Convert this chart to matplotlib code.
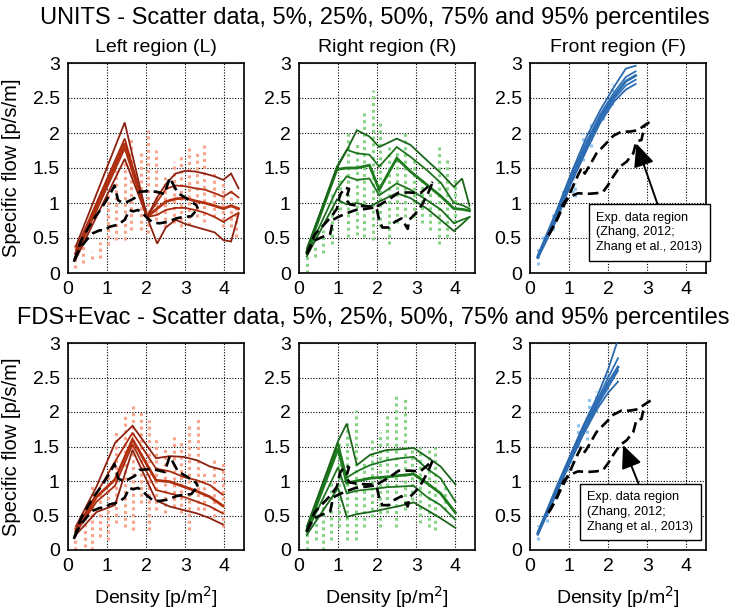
import matplotlib
matplotlib.use("Agg")
import matplotlib.pyplot as plt
from matplotlib.ticker import FormatStrFormatter, MultipleLocator

plt.rcParams['font.family'] = ['Liberation Sans', 'DejaVu Sans']

# ---------------------------------------------------------------- data
# Percentile curves (5, 25, 50, 75, 95 %) of specific flow vs density

# UNITS, left region
units_L_x = [0.2, 1.45, 2.02, 2.28, 2.5, 2.75, 3.0, 3.25, 3.5, 3.75, 3.97, 4.17, 4.36]
units_L_p05 = [0.2, 1.63, 0.8, 0.42, 0.65, 0.76, 0.7, 0.66, 0.62, 0.58, 0.47, 0.45, 0.84]
units_L_p25 = [0.24, 1.78, 0.8, 0.83, 0.9, 0.93, 0.93, 0.9, 0.86, 0.8, 0.73, 0.8, 0.86]
units_L_p50 = [0.28, 1.85, 0.8, 0.92, 1.02, 1.06, 1.07, 1.03, 1.0, 0.96, 0.92, 0.96, 0.92]
units_L_p75 = [0.33, 1.92, 0.8, 1.02, 1.2, 1.25, 1.24, 1.21, 1.19, 1.14, 1.09, 1.16, 1.08]
units_L_p95 = [0.38, 2.15, 0.8, 1.08, 1.27, 1.42, 1.46, 1.45, 1.42, 1.38, 1.33, 1.42, 1.21]

# UNITS, right region
units_R_x = [0.2, 0.97, 1.22, 1.48, 1.8, 2.05, 2.5, 2.85, 3.27, 3.64, 3.96, 4.17, 4.36]
units_R_p05 = [0.24, 1.05, 0.98, 1.0, 0.95, 1.02, 1.14, 1.07, 0.92, 0.75, 0.6, 0.7, 0.8]
units_R_p25 = [0.27, 1.2, 1.38, 1.33, 1.35, 1.11, 1.28, 1.19, 1.04, 0.9, 0.71, 0.76, 0.8]
units_R_p50 = [0.3, 1.48, 1.5, 1.5, 1.54, 1.19, 1.64, 1.45, 1.26, 1.09, 0.92, 0.91, 0.89]
units_R_p75 = [0.32, 1.52, 1.76, 1.71, 1.69, 1.52, 1.8, 1.66, 1.47, 1.28, 1.0, 0.97, 0.92]
units_R_p95 = [0.35, 1.5, 1.75, 2.04, 1.95, 1.8, 1.92, 1.83, 1.61, 1.42, 1.23, 1.35, 0.96]

# UNITS, front region
units_F_x = [0.2, 0.7, 1.05, 1.45, 1.8, 2.15, 2.45, 2.7]
units_F_p05 = [0.21, 0.78, 1.28, 1.76, 2.15, 2.45, 2.62, 2.7]
units_F_p25 = [0.22, 0.82, 1.32, 1.8, 2.19, 2.49, 2.68, 2.76]
units_F_p50 = [0.23, 0.85, 1.35, 1.84, 2.23, 2.53, 2.74, 2.82]
units_F_p75 = [0.24, 0.88, 1.38, 1.88, 2.27, 2.58, 2.8, 2.88]
units_F_p95 = [0.25, 0.92, 1.42, 1.95, 2.33, 2.66, 2.92, 2.96]

# FDS+Evac, left region
fds_L_x = [0.2, 0.73, 1.2, 1.65, 2.25, 2.6, 2.95, 3.3, 3.63, 3.96]
fds_L_p05 = [0.22, 0.55, 0.65, 1.45, 0.72, 0.63, 0.58, 0.53, 0.46, 0.37]
fds_L_p25 = [0.25, 0.7, 0.93, 1.53, 0.87, 0.82, 0.77, 0.7, 0.63, 0.53]
fds_L_p50 = [0.27, 0.77, 1.02, 1.6, 1.01, 0.99, 0.92, 0.85, 0.77, 0.64]
fds_L_p75 = [0.3, 0.82, 1.28, 1.7, 1.18, 1.14, 1.06, 1.01, 0.94, 0.8]
fds_L_p95 = [0.34, 0.92, 1.55, 1.8, 1.33, 1.36, 1.35, 1.3, 1.21, 1.16]

# FDS+Evac, right region
fds_R_x = [0.2, 1.0, 1.22, 1.48, 1.82, 2.25, 2.59, 2.93, 3.27, 3.62, 4.0]
fds_R_p05 = [0.22, 0.9, 0.48, 0.52, 0.55, 0.6, 0.64, 0.69, 0.58, 0.46, 0.32]
fds_R_p25 = [0.26, 1.2, 0.82, 0.86, 0.88, 0.91, 0.92, 0.93, 0.77, 0.65, 0.44]
fds_R_p50 = [0.28, 1.47, 0.97, 1.0, 1.04, 1.06, 1.08, 1.1, 0.97, 0.82, 0.54]
fds_R_p75 = [0.31, 1.55, 1.05, 1.14, 1.23, 1.3, 1.33, 1.35, 1.18, 1.04, 0.7]
fds_R_p95 = [0.34, 1.58, 1.83, 1.23, 1.38, 1.45, 1.46, 1.48, 1.35, 1.21, 0.95]

# FDS+Evac, front region
fds_F_x = [0.2, 0.68, 1.02, 1.36, 1.7, 2.0, 2.25]
fds_F_p05 = [0.22, 0.82, 1.26, 1.67, 2.03, 2.28, 2.44]
fds_F_p25 = [0.23, 0.85, 1.29, 1.7, 2.07, 2.36, 2.6]
fds_F_p50 = [0.24, 0.87, 1.31, 1.73, 2.11, 2.42, 2.65]
fds_F_p75 = [0.25, 0.89, 1.33, 1.76, 2.15, 2.5, 2.78]
fds_F_p95 = [0.26, 0.92, 1.36, 1.8, 2.2, 2.62, 3.05]

# Scatter data: vertical columns of samples at discrete densities (x, min, max)
units_L_col_x = [0.19, 0.38, 0.61, 0.83, 1.02, 1.23, 1.45, 1.62, 1.87, 2.04, 2.26, 2.47, 2.7, 2.89, 3.1, 3.3, 3.49, 3.74, 3.96, 4.17, 4.3]
units_L_col_lo = [0.07, 0.14, 0.2, 0.21, 0.4, 0.47, 0.47, 0.61, 0.61, 0.57, 0.76, 0.66, 0.71, 0.66, 0.69, 0.8, 0.73, 0.8, 0.66, 0.66, 0.52]
units_L_col_hi = [0.42, 0.57, 0.3, 0.45, 1.14, 1.47, 1.57, 1.95, 1.76, 2.04, 1.76, 1.42, 1.59, 1.69, 1.78, 1.76, 1.83, 1.47, 1.33, 1.19, 1.0]

units_R_col_x = [0.2, 0.41, 0.62, 0.84, 1.05, 1.26, 1.48, 1.65, 1.88, 2.08, 2.29, 2.5, 2.72, 2.93, 3.15, 3.36, 3.57, 3.79, 4.0]
units_R_col_lo = [0.0, 0.23, 0.28, 0.42, 0.9, 0.52, 0.55, 0.52, 0.47, 0.66, 0.42, 0.71, 0.8, 0.8, 0.71, 0.61, 0.42, 0.52, 0.71]
units_R_col_hi = [0.3, 0.42, 0.61, 1.14, 1.38, 2.0, 1.85, 2.3, 2.61, 2.14, 1.8, 1.76, 2.0, 1.66, 1.38, 1.28, 1.8, 1.61, 1.38]

units_F_col_x = [0.21, 0.34, 0.6, 0.85, 1.1, 1.15, 1.36, 1.55, 1.87, 2.1]
units_F_col_lo = [0.11, 0.38, 0.62, 0.95, 1.15, 1.09, 1.6, 1.8, 2.19, 2.4]
units_F_col_hi = [0.38, 0.55, 0.85, 1.2, 1.5, 1.28, 2.0, 2.15, 2.38, 2.7]

fds_L_col_x = [0.19, 0.43, 0.61, 0.83, 1.02, 1.23, 1.45, 1.66, 1.86, 2.06, 2.26, 2.47, 2.7, 2.89, 3.1, 3.32, 3.49, 3.74, 3.96]
fds_L_col_lo = [0.0, 0.05, 0.0, 0.19, 0.14, 0.39, 0.34, 0.29, 0.68, 0.29, 0.58, 0.53, 0.63, 0.53, 0.29, 0.58, 0.58, 0.48, 0.34]
fds_L_col_hi = [0.34, 0.53, 0.97, 0.82, 1.11, 1.71, 2.0, 2.12, 2.05, 1.88, 1.64, 1.5, 1.64, 1.59, 1.84, 1.91, 1.16, 1.35, 1.26]

fds_R_col_x = [0.21, 0.43, 0.61, 0.83, 1.02, 1.23, 1.45, 1.66, 1.86, 2.06, 2.26, 2.47, 2.7, 2.89, 3.1, 3.32, 3.49, 3.74]
fds_R_col_lo = [0.0, 0.14, 0.0, 0.14, 0.34, 0.14, 0.14, 0.34, 0.48, 0.34, 0.53, 0.34, 0.58, 0.72, 0.39, 0.34, 0.29, 0.58]
fds_R_col_hi = [0.34, 0.48, 0.72, 0.97, 1.55, 1.84, 2.03, 1.3, 1.6, 1.71, 1.98, 2.25, 2.2, 1.45, 1.5, 1.45, 1.5, 0.97]

fds_F_col_x = [0.21, 0.43, 0.68, 0.95, 1.06, 1.23, 1.45, 1.5, 1.7, 1.95]
fds_F_col_lo = [0.14, 0.4, 0.75, 1.05, 1.16, 1.5, 1.6, 1.95, 2.0, 2.3]
fds_F_col_hi = [0.36, 0.6, 0.95, 1.3, 1.3, 1.84, 1.8, 2.2, 2.3, 2.55]

# Experimental data regions (Zhang, 2012; Zhang et al., 2013)
expL_upper_x = [0.15, 0.34, 0.64, 0.85, 1.06, 1.19, 1.28, 1.4, 1.53, 1.7, 1.83, 2.04, 2.26, 2.47, 2.6, 2.81, 3.02, 3.28, 3.32]
expL_upper_y = [0.16, 0.47, 0.76, 0.92, 1.11, 1.25, 1.04, 1.0, 1.02, 1.07, 1.16, 1.17, 1.16, 1.13, 1.36, 1.14, 1.07, 0.97, 0.92]
expL_lower_x = [0.17, 0.3, 0.47, 0.64, 0.81, 0.94, 1.06, 1.28, 1.45, 1.57, 1.66, 1.79, 1.91, 2.04, 2.17, 2.34, 2.55, 2.77, 2.94, 3.15, 3.32]
expL_lower_y = [0.19, 0.35, 0.47, 0.57, 0.61, 0.61, 0.66, 0.69, 0.76, 0.9, 0.88, 0.9, 0.85, 0.78, 0.72, 0.71, 0.73, 0.78, 0.8, 0.81, 0.92]

expR_upper_x = [0.2, 0.4, 0.62, 0.82, 0.97, 1.05, 1.18, 1.28, 1.2, 1.3, 1.5, 1.8, 2.02, 2.3, 2.55, 2.82, 3.1, 3.25, 3.42]
expR_upper_y = [0.27, 0.55, 0.68, 0.8, 0.92, 1.12, 1.22, 1.2, 1.05, 0.98, 0.96, 0.95, 0.96, 1.05, 1.15, 1.15, 1.14, 1.21, 1.3]
expR_lower_x = [0.2, 0.38, 0.58, 0.8, 0.87, 1.0, 1.2, 1.45, 1.75, 1.98, 2.04, 2.13, 2.3, 2.45, 2.62, 2.78, 2.82, 2.98, 3.15, 3.3, 3.42]
expR_lower_y = [0.27, 0.46, 0.51, 0.56, 0.76, 0.8, 0.85, 0.9, 0.92, 0.94, 0.78, 0.65, 0.65, 0.73, 0.78, 0.63, 0.76, 0.85, 0.98, 1.14, 1.3]

expF_upper_x = [0.47, 0.64, 0.81, 1.02, 1.23, 1.32, 1.4, 1.53, 1.7, 1.91, 2.13, 2.34, 2.55, 2.76, 2.93, 3.15]
expF_upper_y = [0.54, 0.71, 0.9, 1.14, 1.4, 1.5, 1.42, 1.54, 1.71, 1.83, 1.96, 2.02, 2.02, 2.04, 2.11, 2.19]
expF_lower_x = [0.47, 0.55, 0.64, 0.72, 0.81, 0.89, 1.02, 1.23, 1.45, 1.7, 1.87, 2.0, 2.13, 2.3, 2.47, 2.64, 2.72, 2.85, 2.93]
expF_lower_y = [0.54, 0.61, 0.71, 0.8, 0.95, 1.02, 1.09, 1.14, 1.13, 1.14, 1.16, 1.26, 1.38, 1.52, 1.59, 1.71, 1.88, 1.9, 2.11]

row_titles = ["UNITS - Scatter data, 5%, 25%, 50%, 75% and 95% percentiles",
              "FDS+Evac - Scatter data, 5%, 25%, 50%, 75% and 95% percentiles"]
col_titles = ["Left region (L)", "Right region (R)", "Front region (F)"]
note_text = "Exp. data region\n(Zhang, 2012;\nZhang et al., 2013)"

# ---------------------------------------------------------------- styles
RED = dict(dots='#f9a38c', outer='#8e2210', inner='#a82b10', mid='#b3300f')
GREEN = dict(dots='#86d486', outer='#1b651b', inner='#1f751f', mid='#1d7a1d')
BLUE = dict(dots='#8ec3f0', outer='#2a68ad', inner='#2f6fb5', mid='#2c6cb2')

W, H = 747, 610
fig = plt.figure(figsize=(W / 100, H / 100), dpi=100)

col_left = [68, 299, 530]
row_top = [63, 343]
row_h = [210, 207]
ax_w = 176


def make_axes(r, c):
    left = col_left[c] / W
    bottom = 1 - (row_top[r] + row_h[r]) / H
    ax = fig.add_axes([left, bottom, ax_w / W, row_h[r] / H])
    ax.set_xlim(0, 4.5)
    ax.set_ylim(0, 3)
    ax.xaxis.set_major_locator(MultipleLocator(1))
    ax.yaxis.set_major_locator(MultipleLocator(0.5))
    ax.yaxis.set_major_formatter(FormatStrFormatter('%g'))
    ax.grid(True, color='black', linestyle=(0, (1, 1.5)), linewidth=0.8)
    ax.set_axisbelow(True)
    ax.tick_params(length=0, labelsize=14, pad=6)
    for s in ax.spines.values():
        s.set_linewidth(1.2)
    return ax


def draw(ax, xs, pcts, cols, style, region):
    ax.vlines(cols[0], cols[1], cols[2], colors=style['dots'],
              linestyles=(0, (1, 1.2)), linewidth=2.2, zorder=2)
    keys = ['outer', 'inner', 'mid', 'inner', 'outer']
    widths = [1.3, 1.3, 2.0, 1.3, 1.3]
    for p, k, w in zip(pcts, keys, widths):
        ax.plot(xs, p, color=style[k], lw=w, zorder=3, solid_joinstyle='miter')
    ux, uy, lx, ly = region
    for xx, yy in ((ux, uy), (lx, ly)):
        ax.plot(xx, yy, color='black', lw=1.9, linestyle=(0, (4, 2)), zorder=4)


panels = [
    [(units_L_x, [units_L_p05, units_L_p25, units_L_p50, units_L_p75, units_L_p95],
      (units_L_col_x, units_L_col_lo, units_L_col_hi), RED,
      (expL_upper_x, expL_upper_y, expL_lower_x, expL_lower_y)),
     (units_R_x, [units_R_p05, units_R_p25, units_R_p50, units_R_p75, units_R_p95],
      (units_R_col_x, units_R_col_lo, units_R_col_hi), GREEN,
      (expR_upper_x, expR_upper_y, expR_lower_x, expR_lower_y)),
     (units_F_x, [units_F_p05, units_F_p25, units_F_p50, units_F_p75, units_F_p95],
      (units_F_col_x, units_F_col_lo, units_F_col_hi), BLUE,
      (expF_upper_x, expF_upper_y, expF_lower_x, expF_lower_y))],
    [(fds_L_x, [fds_L_p05, fds_L_p25, fds_L_p50, fds_L_p75, fds_L_p95],
      (fds_L_col_x, fds_L_col_lo, fds_L_col_hi), RED,
      (expL_upper_x, expL_upper_y, expL_lower_x, expL_lower_y)),
     (fds_R_x, [fds_R_p05, fds_R_p25, fds_R_p50, fds_R_p75, fds_R_p95],
      (fds_R_col_x, fds_R_col_lo, fds_R_col_hi), GREEN,
      (expR_upper_x, expR_upper_y, expR_lower_x, expR_lower_y)),
     (fds_F_x, [fds_F_p05, fds_F_p25, fds_F_p50, fds_F_p75, fds_F_p95],
      (fds_F_col_x, fds_F_col_lo, fds_F_col_hi), BLUE,
      (expF_upper_x, expF_upper_y, expF_lower_x, expF_lower_y))],
]

# arrow tip, text anchor and arrow start (fraction of box width) per row
notes = [((2.72, 1.85), (1.7, 0.58), 0.6),
         ((2.38, 1.52), (1.47, 0.55), 0.51)]

for r in range(2):
    for c in range(3):
        ax = make_axes(r, c)
        xs, pcts, cols, style, region = panels[r][c]
        draw(ax, xs, pcts, cols, style, region)
        if c == 0:
            ax.set_ylabel("Specific flow [p/s/m]", fontsize=14.5, labelpad=8)
        if r == 0:
            ax.set_title(col_titles[c], fontsize=14, pad=8)
        else:
            ax.set_xlabel("Density [p/m$^2$]", fontsize=14, labelpad=6)
        if c == 2:
            tip, anchor, rel = notes[r]
            ax.annotate(note_text, xy=tip, xytext=anchor, textcoords='data',
                        ha='left', va='center', fontsize=9.1, linespacing=1.3,
                        bbox=dict(boxstyle='square,pad=0.6', fc='white', ec='black', lw=1),
                        arrowprops=dict(arrowstyle='-|>,head_length=1.0,head_width=0.45',
                                        color='black', lw=1.4, relpos=(rel, 1.0),
                                        shrinkA=0, shrinkB=0, mutation_scale=14),
                        annotation_clip=False, zorder=6)

fig.text(375 / W, 1 - 18 / H, row_titles[0], ha='center', va='center', fontsize=17)
fig.text(373.5 / W, 1 - 318 / H, row_titles[1], ha='center', va='center', fontsize=17)

fig.savefig("out.png", dpi=100)
